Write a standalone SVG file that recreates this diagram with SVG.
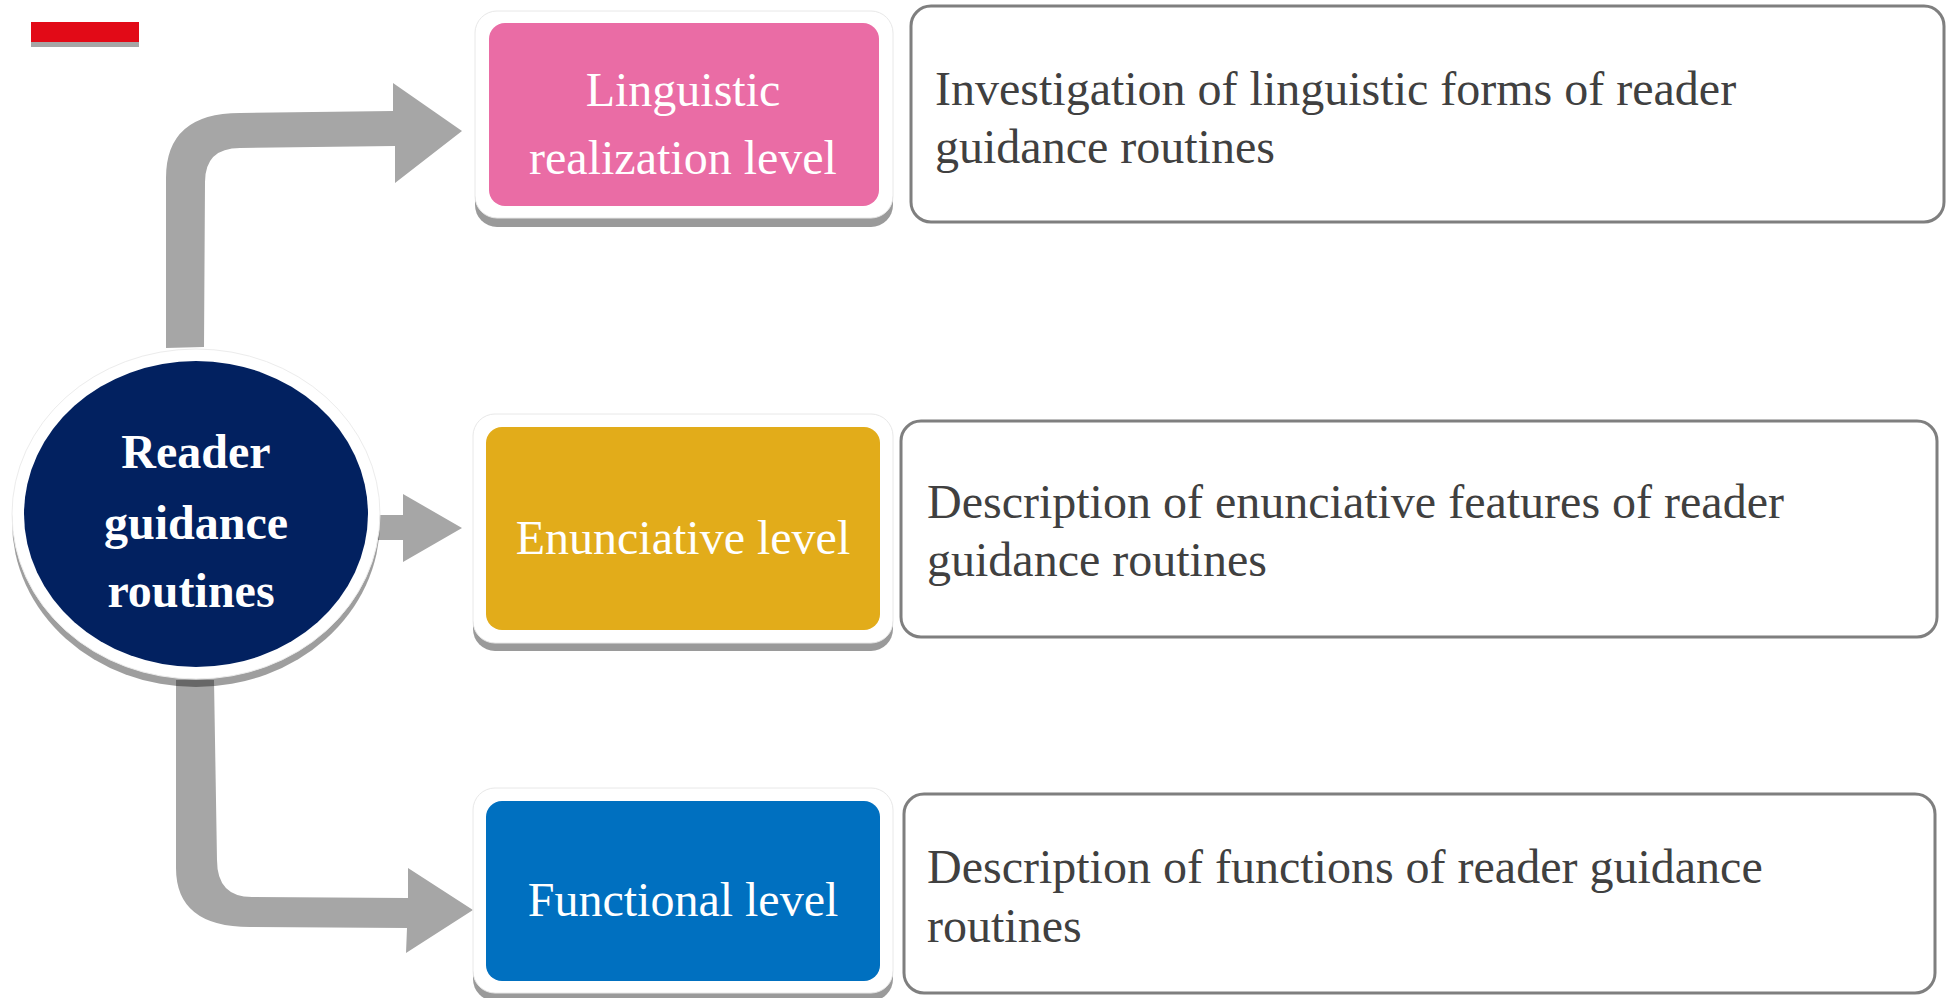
<svg xmlns="http://www.w3.org/2000/svg" width="1947" height="998" viewBox="0 0 1947 998">
<style>
.arrow{fill:#a6a6a6}
.container{fill:#ffffff;stroke:#e8e8e8;stroke-width:1}
.cshadow{fill:#9a9a9a}
.lvl{font-family:"Liberation Serif","Times New Roman",serif;font-size:48px;fill:#ffffff;text-anchor:middle}
.desc-box{fill:#ffffff;stroke:#7f7f7f;stroke-width:3}
.desc{font-family:"Liberation Serif","Times New Roman",serif;font-size:48px;fill:#404040}
.center-text{font-family:"Liberation Serif","Times New Roman",serif;font-size:48px;font-weight:bold;fill:#ffffff;text-anchor:middle}
</style>
<rect width="1947" height="998" fill="#ffffff"/>
<g id="red-bar">
<rect x="31" y="27" width="108" height="20" fill="#a6a6a6"/>
<rect x="31" y="22" width="108" height="20" fill="#e20a17"/>
</g>
<g id="connectors">
<path class="arrow" d="M166,348 L166,178 Q166,113 240,113 L393,111 L393,83 L462,131 L395,183 L395,146 L240,148 Q205,148 205,182 L204,347 Z"/>
<path class="arrow" d="M368,515 L403,515 L403,494 L462,528 L403,562 L403,540 L368,540 Z"/>
<path class="arrow" d="M176,680 L176,868 Q176,927 250,927 L407,928 L406,953 L473,910 L408,868 L408,898 L252,897 Q217,897 217,860 L214,680 Z"/>
</g>
<g id="center-node">
<ellipse cx="196" cy="522" rx="184" ry="165" fill="#000000" fill-opacity="0.38"/>
<ellipse cx="196" cy="514" rx="184" ry="165" fill="#ffffff" stroke="#ececec" stroke-width="1"/>
<ellipse cx="196" cy="514" rx="172" ry="153" fill="#022160"/>
<text class="center-text" x="196" y="468">Reader</text>
<text class="center-text" x="196" y="539">guidance</text>
<text class="center-text" x="191" y="607">routines</text>
</g>
<g id="node-linguistic">
<rect class="cshadow" x="475" y="20" width="418" height="207" rx="22"/>
<rect class="container" x="475" y="11" width="418" height="207" rx="22"/>
<rect x="489" y="23" width="390" height="183" rx="16" fill="#ea6ca5"/>
<text class="lvl" x="683" y="106">Linguistic</text>
<text class="lvl" x="683" y="174">realization level</text>
</g>
<g id="node-enunciative">
<rect class="cshadow" x="473" y="422" width="420" height="229" rx="22"/>
<rect class="container" x="473" y="414" width="420" height="229" rx="22"/>
<rect x="486" y="427" width="394" height="203" rx="16" fill="#e2ac1a"/>
<text class="lvl" x="683" y="554">Enunciative level</text>
</g>
<g id="node-functional">
<rect class="cshadow" x="473" y="796" width="420" height="205" rx="22"/>
<rect class="container" x="473" y="788" width="420" height="205" rx="22"/>
<rect x="486" y="801" width="394" height="180" rx="16" fill="#0070c0"/>
<text class="lvl" x="683" y="916">Functional level</text>
</g>
<g id="desc-linguistic">
<rect class="desc-box" x="911" y="6" width="1033" height="216" rx="20"/>
<text class="desc" x="935" y="105">Investigation of linguistic forms of reader</text>
<text class="desc" x="935" y="163">guidance routines</text>
</g>
<g id="desc-enunciative">
<rect class="desc-box" x="901" y="421" width="1036" height="216" rx="20"/>
<text class="desc" x="927" y="518">Description of enunciative features of reader</text>
<text class="desc" x="927" y="576">guidance routines</text>
</g>
<g id="desc-functional">
<rect class="desc-box" x="904" y="794" width="1031" height="199" rx="20"/>
<text class="desc" x="927" y="883">Description of functions of reader guidance</text>
<text class="desc" x="927" y="942">routines</text>
</g>
</svg>
